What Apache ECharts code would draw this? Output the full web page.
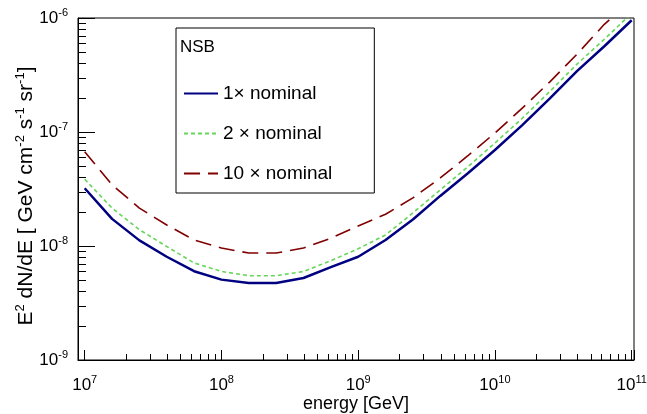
<!DOCTYPE html>
<html><head><meta charset="utf-8">
<script src="https://cdn.jsdelivr.net/npm/echarts@6/dist/echarts.min.js"></script>
<style>html,body{margin:0;padding:0;background:#fff}#c{width:647px;height:414px}</style>
</head><body><div id="c"></div>
<script>
// ---- data ----
const energy = [1e7, 1.585e7, 2.512e7, 3.981e7, 6.310e7,
                1e8, 1.585e8, 2.512e8, 3.981e8, 6.310e8,
                1e9, 1.585e9, 2.512e9, 3.981e9, 6.310e9,
                1e10, 1.585e10, 2.512e10, 3.981e10, 6.310e10, 1e11];
const nominal1 = [3.21e-8, 1.73e-8, 1.12e-8, 8.05e-9, 6.01e-9,
                  5.07e-9, 4.74e-9, 4.73e-9, 5.24e-9, 6.52e-9,
                  8.05e-9, 1.13e-8, 1.71e-8, 2.75e-8, 4.33e-8,
                  6.95e-8, 1.15e-7, 1.96e-7, 3.42e-7, 5.65e-7, 9.55e-7];
const nominal2 = [3.85e-8, 2.15e-8, 1.39e-8, 9.9e-9, 7.1e-9,
                  5.98e-9, 5.49e-9, 5.49e-9, 5.98e-9, 7.43e-9,
                  9.46e-9, 1.25e-8, 1.95e-8, 3.1e-8, 4.93e-8,
                  8.0e-8, 1.32e-7, 2.26e-7, 3.94e-7, 6.51e-7, 1.1e-6];
const nominal10 = [6.72e-8, 3.44e-8, 2.15e-8, 1.53e-8, 1.13e-8,
                   9.6e-9, 8.67e-9, 8.67e-9, 9.6e-9, 1.17e-8,
                   1.5e-8, 1.9e-8, 2.64e-8, 3.95e-8, 6.16e-8,
                   9.8e-8, 1.62e-7, 2.74e-7, 4.81e-7, 8.8e-7, 1.45e-6];
const seriesNames = ['1\u00d7 nominal', '2 \u00d7 nominal', '10 \u00d7 nominal'];
const legendTitle = 'NSB';
const xTitle = 'energy [GeV]';
const xDecades = [7, 8, 9, 10];
const yDecades = [-9, -8, -7];
const minorMultipliers = [2, 3, 4, 5, 6, 7, 8, 9];

// ---- axis ranges ----
const xMin = Math.pow(10, 6.951), xMax = Math.pow(10, 11.017);
const yMin = 1e-9, yMax = 1e-6;

const FF = '"Liberation Sans", Arial, Helvetica, sans-serif';
const minorX = [];
xDecades.forEach(d => minorMultipliers.forEach(m => minorX.push(m * Math.pow(10, d))));
const minorY = [];
yDecades.forEach(d => minorMultipliers.forEach(m => minorY.push(m * Math.pow(10, d))));

function powLabel(v) {
  const l = Math.log10(v), r = Math.round(l);
  if (Math.abs(l - r) > 1e-6) return '';
  return '{b|10}{s|' + r + '}';
}
const richPow = {
  b: {fontSize: 17, fontFamily: FF, color: '#000'},
  s: {fontSize: 11, fontFamily: FF, color: '#000', padding: [0, 0, 11, 0]}
};

const chart = echarts.init(document.getElementById('c'), null, {renderer: 'canvas'});
chart.setOption({
  animation: false,
  backgroundColor: '#fff',
  textStyle: {fontFamily: FF},
  grid: {left: 78, top: 18, right: 13, bottom: 54, show: true, borderColor: '#000', borderWidth: 1,
         containLabel: false, outerBoundsMode: 'none'},
  title: {text: legendTitle, left: 180, top: 39, padding: 0,
          textStyle: {fontSize: 17, fontWeight: 'normal', fontFamily: FF, color: '#000'}},
  legend: {
    orient: 'vertical', left: 176, top: 28,
    data: seriesNames,
    itemWidth: 34, itemHeight: 18, itemGap: 21,
    padding: [56, 42, 10, 7],
    borderColor: '#000', borderWidth: 1, borderRadius: 0,
    itemStyle: {opacity: 0},
    textStyle: {fontSize: 19, fontFamily: FF, color: '#000'}
  },
  xAxis: {
    type: 'log', logBase: 10, min: xMin, max: xMax,
    name: xTitle, nameLocation: 'middle', nameGap: 35, nameMoveOverlap: false,
    nameTextStyle: {fontSize: 18, fontFamily: FF, color: '#000'},
    axisLine: {show: true, lineStyle: {color: '#000', width: 1}},
    axisTick: {show: true, inside: true, length: 10, lineStyle: {color: '#000', width: 1}},
    axisLabel: {margin: 14, formatter: powLabel, rich: richPow, showMinLabel: true, showMaxLabel: true},
    splitLine: {show: false}
  },
  yAxis: {
    type: 'log', logBase: 10, min: yMin, max: yMax,
    name: '{n|E}{s|2}{n| dN/dE [ GeV cm}{s|-2}{n| s}{s|-1}{n| sr}{s|-1}{n|]}',
    nameLocation: 'middle', nameGap: 39, nameMoveOverlap: false,
    nameTextStyle: {fontSize: 21, fontFamily: FF, color: '#000', padding: [0, 14, 0, 0],
      rich: {n: {fontSize: 21, fontFamily: FF, color: '#000'},
             s: {fontSize: 13, fontFamily: FF, color: '#000', padding: [0, 0, 12, 0]}}},
    axisLine: {show: true, lineStyle: {color: '#000', width: 1}},
    axisTick: {show: true, inside: true, length: 17, lineStyle: {color: '#000', width: 1}},
    axisLabel: {margin: 10, formatter: powLabel, rich: richPow},
    splitLine: {show: false}
  },
  series: [
    {name: seriesNames[0], type: 'line', symbol: 'none', data: energy.map((e, i) => [e, nominal1[i]]),
     lineStyle: {color: '#000080', width: 2.5, type: 'solid'}, itemStyle: {color: '#000080'}, z: 5},
    {name: seriesNames[1], type: 'line', symbol: 'none', data: energy.map((e, i) => [e, nominal2[i]]),
     lineStyle: {color: '#66d65a', width: 1.6, type: [4, 3]}, itemStyle: {color: '#66d65a'}, z: 4},
    {name: seriesNames[2], type: 'line', symbol: 'none', data: energy.map((e, i) => [e, nominal10[i]]),
     lineStyle: {color: '#800000', width: 1.6, type: [16, 8]}, itemStyle: {color: '#800000'}, z: 3},
    {type: 'custom', silent: true, clip: false, z: 6,
     data: minorX.map(v => [v, yMin]),
     renderItem: (params, api) => {
       const p = api.coord([api.value(0), api.value(1)]);
       const x = Math.round(p[0]) + 0.5;
       return {type: 'line', shape: {x1: x, y1: p[1], x2: x, y2: p[1] - 6},
               style: {stroke: '#000', lineWidth: 1}};
     }},
    {type: 'custom', silent: true, clip: false, z: 6,
     data: minorY.map(v => [xMin, v]),
     renderItem: (params, api) => {
       const p = api.coord([api.value(0), api.value(1)]);
       const y = Math.round(p[1]) + 0.5;
       return {type: 'line', shape: {x1: p[0], y1: y, x2: p[0] + 8, y2: y},
               style: {stroke: '#000', lineWidth: 1}};
     }}
  ]
});
</script></body></html>
